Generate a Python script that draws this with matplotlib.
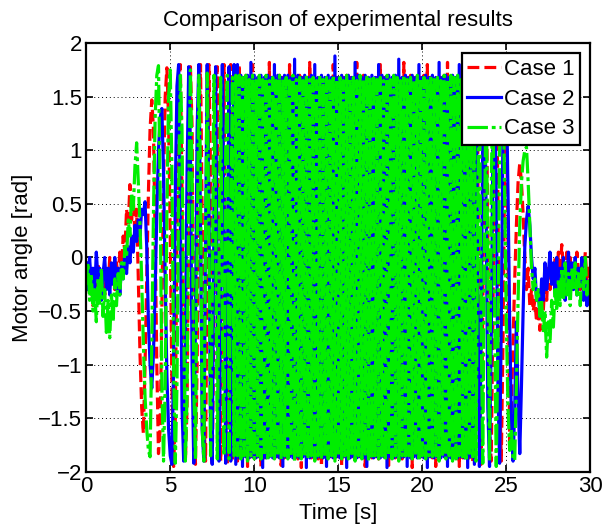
import numpy as np
import matplotlib
matplotlib.use("Agg")
import matplotlib.pyplot as plt

# ##################################################
# 1) Data read off the reference, sampled every 0.1 s (one row per second)
# ##################################################

case1_angle = [
    -0.3, -0.1, -0.35, -0.15, -0.45, -0.2, -0.3, -0.05, -0.4, -0.2,
    -0.1, -0.35, -0.15, -0.3, 0.0, -0.25, -0.1, -0.3, -0.05, -0.2,
    0.05, -0.1, 0.2, 0.05, 0.45, 0.3, 0.68, 0.35, 0.55, 0.2,
    0.45, -0.2, -0.9, -1.4, -1.64, -1.0, -0.2, 0.6, 1.2, 1.47,
    1.2, 0.2, -1.0, -1.83, -1.6, -0.5, 0.7, 1.5, 1.77, 1.3,
    0.2, -1.2, -1.95, -1.5, 0.2, 1.6, 1.8, 0.6, -1.2, -1.9,
    -1.4, 0.4, 1.78, 1.2, -0.8, -1.93, -1.0, 1.0, 1.8, 0.4,
    -1.5, -1.9, 0.0, 1.8, 0.8, -1.95, -0.6, 1.4, 1.78, -0.8,
    -1.9, 0.6, 1.8, -1.0, -1.93, 1.2, 1.8, -1.9, 0.2, 1.78,
    -1.9, 1.8, -1.86, 1.68, -1.88, 1.7, -1.95, 1.68, -1.86, 1.8,
    -1.87, 1.68, -1.86, 1.7, -1.95, 1.68, -1.87, 1.67, -1.86, 1.82,
    -1.86, 1.68, -1.88, 1.67, -1.86, 1.7, -1.94, 1.68, -1.87, 1.68,
    -1.86, 1.8, -1.87, 1.68, -1.86, 1.67, -1.88, 1.7, -1.96, 1.68,
    -1.87, 1.68, -1.86, 1.82, -1.87, 1.68, -1.86, 1.7, -1.88, 1.67,
    -1.95, 1.68, -1.86, 1.7, -1.87, 1.68, -1.86, 1.8, -1.87, 1.68,
    -1.86, 1.67, -1.94, 1.68, -1.86, 1.7, -1.87, 1.68, -1.86, 1.67,
    -1.88, 1.82, -1.86, 1.68, -1.87, 1.7, -1.95, 1.68, -1.86, 1.67,
    -1.87, 1.68, -1.86, 1.7, -1.88, 1.8, -1.86, 1.68, -1.87, 1.67,
    -1.94, 1.68, -1.86, 1.7, -1.87, 1.68, -1.86, 1.67, -1.88, 1.82,
    -1.86, 1.68, -1.87, 1.7, -1.96, 1.68, -1.86, 1.67, -1.87, 1.68,
    -1.86, 1.7, -1.88, 1.8, -1.86, 1.68, -1.87, 1.67, -1.95, 1.68,
    -1.87, 1.68, -1.86, 1.7, -1.87, 1.82, -1.86, 1.68, -1.88, 1.67,
    -1.86, 1.7, -1.95, 1.68, -1.87, 1.67, -1.86, 1.8, -1.87, 1.7,
    -1.9, 0.0, 1.8, 1.0, -1.2, -1.93, -0.5, 1.5, 1.75, 0.2,
    -1.6, -1.9, -0.6, 1.2, 1.7, 0.6, -1.2, -1.9, -0.8, 0.8,
    1.45, 0.2, -1.72, -1.4, -0.8, -0.2, 0.3, 0.7, 0.88, 0.7,
    0.4, 0.0, -0.3, -0.1, -0.45, -0.3, -0.5, -0.4, -0.6, -0.45,
    -0.68, -0.3, -0.5, -0.2, -0.4, -0.1, -0.3, -0.05, -0.25, 0.0,
    -0.2, 0.05, -0.15, 0.12, -0.1, -0.3, 0.05, -0.2, 0.0, -0.3,
    -0.05, -0.2, 0.05, -0.15, -0.3, -0.05, -0.2, 0.05, -0.25, -0.1,
    -0.1,
]

case2_angle = [
    -0.05, -0.3, 0.0, -0.25, -0.1, -0.35, 0.05, -0.2, -0.1, -0.4,
    -0.15, 0.0, -0.3, -0.1, -0.35, -0.05, -0.25, 0.0, -0.3, -0.1,
    -0.35, -0.05, -0.2, 0.05, -0.15, 0.1, -0.05, 0.2, 0.05, 0.3,
    0.15, 0.35, 0.2, 0.45, 0.4, 0.52, 0.1, -0.6, -1.0, -1.22,
    -0.9, -0.3, 0.4, 1.0, 1.3, 1.39, 0.8, -0.2, -1.1, -1.6,
    -1.85, -1.93, -1.0, 0.6, 1.6, 1.8, 0.4, -1.4, -1.9, -0.8,
    0.8, 1.78, 1.0, -1.0, -1.92, -0.6, 1.2, 1.8, 0.3, -1.6,
    -1.9, 0.2, 1.8, 0.6, -1.7, -1.93, 0.4, 1.78, -0.4, -1.9,
    -0.6, 1.8, 0.4, -1.92, -0.2, 1.78, -1.9, 0.8, 1.8, -1.93,
    1.8, -1.87, 1.7, -1.95, 1.68, -1.86, 1.7, -1.87, 1.82, -1.86,
    1.7, -1.87, 1.68, -1.86, 1.7, -1.96, 1.68, -1.87, 1.7, -1.86,
    1.68, -1.87, 1.8, -1.86, 1.7, -1.87, 1.68, -1.95, 1.7, -1.86,
    1.7, -1.86, 1.68, -1.87, 1.85, -1.86, 1.7, -1.87, 1.68, -1.86,
    1.7, -1.96, 1.68, -1.87, 1.7, -1.86, 1.8, -1.87, 1.68, -1.86,
    1.7, -1.87, 1.68, -1.95, 1.7, -1.86, 1.68, -1.87, 1.88, -1.86,
    1.68, -1.87, 1.7, -1.86, 1.68, -1.96, 1.7, -1.87, 1.68, -1.86,
    1.82, -1.87, 1.7, -1.86, 1.68, -1.87, 1.7, -1.95, 1.68, -1.86,
    1.7, -1.87, 1.68, -1.86, 1.8, -1.87, 1.7, -1.86, 1.68, -1.96,
    1.7, -1.86, 1.68, -1.87, 1.7, -1.86, 1.85, -1.87, 1.68, -1.86,
    1.7, -1.95, 1.68, -1.87, 1.7, -1.86, 1.68, -1.87, 1.8, -1.86,
    1.68, -1.87, 1.7, -1.96, 1.68, -1.86, 1.7, -1.87, 1.68, -1.86,
    1.82, -1.87, 1.68, -1.86, 1.7, -1.95, 1.68, -1.87, 1.7, -1.86,
    1.68, -1.87, 1.8, -1.86, 1.7, -1.87, 1.68, -1.96, 1.7, -1.86,
    1.8, -1.93, 1.8, -0.2, -1.95, -0.8, 1.2, 1.75, 0.4, -1.4,
    -1.95, -0.8, 1.0, 1.7, 0.6, -1.2, -1.92, -0.6, 1.2, 1.6,
    1.6, 0.6, -0.6, -1.5, -1.9, -1.4, -0.6, -1.3, -1.83, -1.2,
    -0.5, 0.1, 0.35, 0.48, 0.3, 0.0, -0.2, -0.1, -0.4, -0.3,
    -0.55, -0.2, -0.4, -0.05, -0.3, -0.15, 0.05, -0.25, -0.05, -0.3,
    0.0, -0.35, -0.1, -0.25, 0.0, -0.4, -0.2, 0.05, -0.3, -0.05,
    -0.3, 0.0, -0.35, -0.1, -0.25, 0.0, -0.4, -0.2, -0.45, -0.25,
    -0.2,
]

case3_angle = [
    -0.25, -0.05, -0.4, -0.15, -0.5, -0.3, -0.6, -0.2, -0.45, -0.1,
    -0.55, -0.3, -0.7, -0.4, -0.75, -0.35, -0.6, -0.2, -0.45, -0.15,
    -0.35, -0.05, -0.2, 0.1, 0.0, 0.35, 0.2, 0.6, 0.45, 0.85,
    1.07, 0.7, 0.3, -0.2, -0.8, -1.3, -1.6, -1.8, -1.86, -0.8,
    0.4, 1.3, 1.7, 1.79, 0.6, -1.2, -1.9, -1.2, 0.4, 1.5,
    1.75, 0.8, -1.0, -1.92, -1.2, 0.6, 1.7, 1.2, -0.6, -1.9,
    -1.3, 0.6, 1.75, 0.8, -1.2, -1.88, 0.0, 1.7, 0.8, -1.6,
    -1.9, 0.2, 1.72, 0.2, -1.85, -0.4, 1.7, 0.4, -1.88, -0.2,
    1.68, -0.6, -1.85, 1.0, 1.7, -1.88, 0.2, 1.68, -1.85, 1.7,
    -1.85, 1.7, -1.88, 1.68, -1.85, 1.7, -1.9, 1.66, -1.85, 1.7,
    -1.88, 1.65, -1.85, 1.7, -1.88, 1.66, -1.85, 1.7, -1.9, 1.65,
    -1.85, 1.68, -1.88, 1.65, -1.85, 1.7, -1.88, 1.66, -1.85, 1.68,
    -1.88, 1.65, -1.85, 1.7, -1.9, 1.66, -1.85, 1.68, -1.88, 1.65,
    -1.85, 1.7, -1.88, 1.66, -1.85, 1.68, -1.9, 1.65, -1.85, 1.7,
    -1.88, 1.66, -1.85, 1.68, -1.88, 1.65, -1.85, 1.7, -1.9, 1.66,
    -1.85, 1.68, -1.88, 1.65, -1.85, 1.7, -1.88, 1.66, -1.85, 1.68,
    -1.9, 1.65, -1.85, 1.7, -1.88, 1.66, -1.85, 1.7, -1.9, 1.68,
    -1.88, 1.7, -1.85, 1.66, -1.88, 1.68, -1.85, 1.65, -1.9, 1.7,
    -1.85, 1.66, -1.88, 1.7, -1.85, 1.68, -1.9, 1.65, -1.85, 1.7,
    -1.88, 1.66, -1.85, 1.68, -1.88, 1.65, -1.85, 1.7, -1.9, 1.66,
    -1.85, 1.68, -1.88, 1.65, -1.85, 1.7, -1.88, 1.66, -1.85, 1.68,
    -1.9, 1.65, -1.85, 1.7, -1.88, 1.66, -1.85, 1.7, -1.9, 1.68,
    -1.88, 1.7, -1.85, 1.66, -1.88, 1.68, -1.9, 1.7, -1.85, 1.72,
    -1.88, 1.7, -1.9, 0.4, 1.72, -0.6, -1.92, 0.2, 1.75, -0.2,
    -1.9, 0.6, 1.7, -0.4, -1.95, -0.8, 1.0, 1.5, 1.7, 0.6,
    -0.6, -1.4, -1.8, -1.6, -1.89, -1.89, -1.2, -0.4, 0.3, 0.7,
    0.9, 1.0, 1.03, 0.7, 0.3, -0.1, -0.3, -0.2, -0.4, -0.3,
    -0.55, -0.4, -0.7, -0.5, -0.93, -0.6, -0.8, -0.4, -0.65, -0.3,
    -0.5, -0.2, -0.45, -0.1, -0.4, -0.05, -0.35, -0.15, -0.45, -0.1,
    -0.3, -0.05, -0.35, -0.15, -0.45, -0.1, -0.3, 0.0, -0.35, -0.2,
    -0.3,
]

# sampling grid of the recorded runs
time_s = np.linspace(0, 30, 301)

case_labels = ["Case 1", "Case 2", "Case 3"]
x_ticks = [0, 5, 10, 15, 20, 25, 30]
y_ticks = [-2, -1.5, -1, -0.5, 0, 0.5, 1, 1.5, 2]

# ##################################################
# 2) Plot
# ##################################################

plt.rcParams['font.family'] = ['Liberation Sans', 'DejaVu Sans']
plt.rcParams['font.size'] = 16

fig = plt.figure(figsize=(6.03, 5.26), dpi=100)
ax = fig.add_axes([0.143, 0.103, 0.836, 0.815])

lw = 2.3
ax.plot(time_s, case1_angle, color='#ff0000', linestyle='--', linewidth=lw, label=case_labels[0])
ax.plot(time_s, case2_angle, color='#0000ff', linestyle='-', linewidth=lw, label=case_labels[1])
ax.plot(time_s, case3_angle, color='#00ee00', linestyle=(0, (6.4, 1.2, 1.2, 1.2)),
        linewidth=lw, label=case_labels[2])

ax.set_xlim(0, 30)
ax.set_ylim(-2, 2)
ax.set_xticks(x_ticks)
ax.set_yticks(y_ticks)
ax.set_yticklabels([f"{v:g}".replace('-', '\u2212') for v in y_ticks])
ax.tick_params(direction='in', top=True, right=True, length=5, width=1.2, labelsize=16, pad=3)
ax.grid(True, color='k', linestyle=(0, (1, 3)), linewidth=0.7)
for s in ax.spines.values():
    s.set_linewidth(1.6)

ax.set_title("Comparison of experimental results", fontsize=16, pad=12.5)
ax.set_xlabel("Time [s]", fontsize=16, labelpad=4)
ax.set_ylabel("Motor angle [rad]", fontsize=16, labelpad=4)

leg = ax.legend(loc='upper right', fontsize=16, handlelength=1.5, labelspacing=0.4,
                borderaxespad=0.45, handletextpad=0.15, borderpad=0.25, fancybox=False)
leg.get_frame().set_edgecolor('k')
leg.get_frame().set_linewidth(1.6)
leg.get_frame().set_alpha(1)

fig.savefig("out.png", dpi=100)
